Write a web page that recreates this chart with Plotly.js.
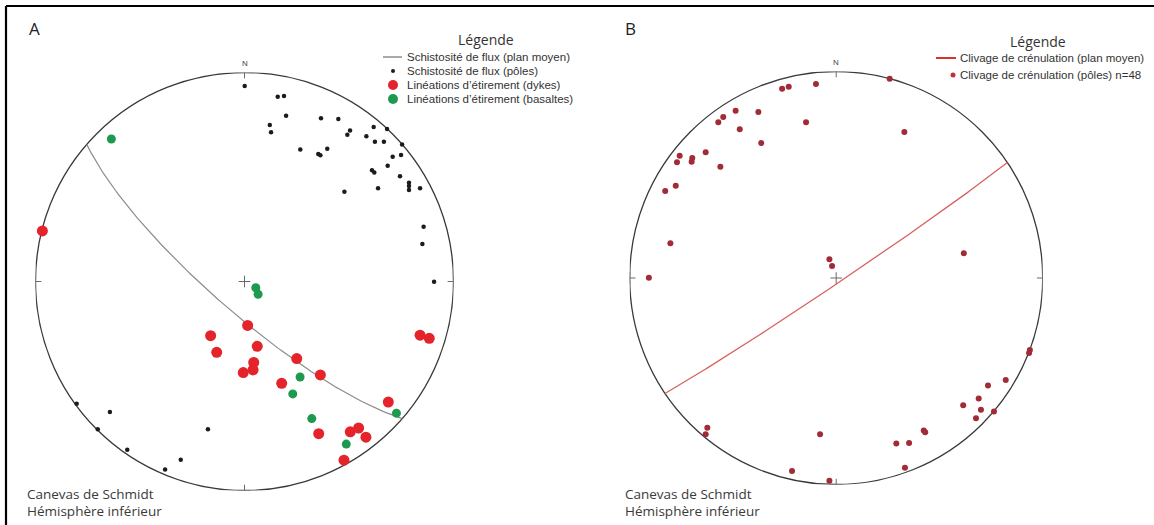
<!DOCTYPE html>
<html>
<head>
<meta charset="utf-8">
<script src="https://cdn.plot.ly/plotly-3.0.1.min.js"></script>
<style>html,body{margin:0;padding:0;background:#fff;}#chart{width:1154px;height:525px;}</style>
</head>
<body>
<div id="chart"></div>
<script>
// ---------- DATA (equal-area projection coords, unit = primitive radius; E positive, N positive) ----------
// Panel A : Schistosité de flux (pôles)
const schistPolesE = [0.001,0.159,0.189,0.199,0.121,0.127,0.366,0.449,0.267,0.353,0.363,0.396,0.505,0.492,0.478,0.618,0.583,0.682,0.624,0.667,0.754,0.709,0.749,0.685,0.610,0.621,0.744,0.787,0.787,0.787,0.840,0.639,0.857,0.851,0.907,-0.803,-0.644,-0.702,-0.561,-0.175,-0.305,-0.380];
const schistPolesN = [0.935,0.884,0.888,0.793,0.749,0.714,0.781,0.778,0.631,0.610,0.604,0.635,0.722,0.702,0.430,0.739,0.695,0.730,0.669,0.669,0.656,0.597,0.605,0.554,0.532,0.521,0.503,0.473,0.457,0.438,0.446,0.446,0.262,0.179,-0.001,-0.585,-0.624,-0.707,-0.805,-0.707,-0.853,-0.900];
// Panel A : Linéations d'étirement (dykes)
const dykesE = [-0.967,0.015,-0.162,-0.133,0.061,0.044,0.041,-0.006,0.250,0.363,0.178,0.688,0.355,0.506,0.546,0.581,0.476,0.840,0.884];
const dykesN = [0.242,-0.210,-0.259,-0.339,-0.310,-0.387,-0.423,-0.436,-0.369,-0.447,-0.487,-0.577,-0.728,-0.719,-0.701,-0.745,-0.855,-0.257,-0.272];
// Panel A : Linéations d'étirement (basaltes)
const basaltsE = [-0.637,0.054,0.065,0.266,0.231,0.322,0.487,0.727];
const basaltsN = [0.682,-0.030,-0.061,-0.457,-0.538,-0.656,-0.778,-0.630];
// Panel B : Clivage de crénulation (pôles)
const crenPolesE = [0.259,-0.262,-0.230,-0.098,-0.487,-0.377,-0.571,-0.547,-0.146,0.330,-0.467,-0.363,-0.758,-0.771,-0.697,-0.700,-0.632,-0.561,-0.828,-0.777,-0.803,-0.907,-0.033,-0.020,0.618,-0.624,-0.632,-0.078,-0.214,-0.033,0.291,0.353,0.424,0.431,0.333,0.615,0.690,0.735,0.821,0.701,0.677,0.764,0.938,0.934];
const crenPolesN = [0.965,0.917,0.926,0.939,0.810,0.804,0.754,0.780,0.754,0.707,0.720,0.654,0.592,0.560,0.581,0.563,0.609,0.539,0.421,0.447,0.168,0.001,0.091,0.058,0.120,-0.725,-0.757,-0.757,-0.935,-0.982,-0.802,-0.799,-0.739,-0.747,-0.919,-0.616,-0.583,-0.520,-0.494,-0.638,-0.679,-0.646,-0.349,-0.363];
// Mean planes (right-hand rule strike / dip, degrees): [A schistosité, B clivage]
const meanPlaneStrike = [131, 56];
const meanPlaneDip = [78, 88];
// Text
const panelLetters = ['A', 'B'];
const legendTitle = 'Légende';
const legendA = ['Schistosité de flux (plan moyen)', 'Schistosité de flux (pôles)', 'Linéations d\u2019étirement (dykes)', 'Linéations d\u2019étirement (basaltes)'];
const legendB = ['Clivage de crénulation (plan moyen)', 'Clivage de crénulation (pôles) n=48'];
const netCaption = ['Canevas de Schmidt', 'Hémisphère inférieur'];
const northLabel = 'N';

// ---------- geometry helpers ----------
const W = 1154, H = 525;
const px = x => x / W;
const py = y => 1 - y / H;
const rad = d => d * Math.PI / 180;

// lower-hemisphere equal-area (Schmidt) projection of a plane (great circle)
function greatCircle(strike, dip) {
  const xs = [], ys = [];
  const dd = strike + 90;
  const s = [Math.sin(rad(strike)), Math.cos(rad(strike)), 0];
  const d = [Math.sin(rad(dd)) * Math.cos(rad(dip)), Math.cos(rad(dd)) * Math.cos(rad(dip)), -Math.sin(rad(dip))];
  for (let k = 0; k <= 180; k++) {
    const phi = rad(k);
    const v = [0, 1, 2].map(i => Math.cos(phi) * s[i] + Math.sin(phi) * d[i]);
    const sinP = Math.min(1, Math.max(0, -v[2]));
    const r = Math.sqrt(Math.max(0, 1 - sinP));
    const h = Math.hypot(v[0], v[1]) || 1;
    xs.push(r * v[0] / h);
    ys.push(r * v[1] / h);
  }
  return {xs, ys};
}

const gcA = greatCircle(meanPlaneStrike[0], meanPlaneDip[0]);
const gcB = greatCircle(meanPlaneStrike[1], meanPlaneDip[1]);

const traces = [
  {x: gcA.xs, y: gcA.ys, xaxis: 'x', yaxis: 'y', mode: 'lines', line: {color: '#8c8c8c', width: 1.2}, hoverinfo: 'skip', showlegend: false},
  {x: schistPolesE, y: schistPolesN, xaxis: 'x', yaxis: 'y', mode: 'markers', marker: {color: '#1b1b1b', size: 4.5}, cliponaxis: false, showlegend: false, name: legendA[1]},
  {x: dykesE, y: dykesN, xaxis: 'x', yaxis: 'y', mode: 'markers', marker: {color: '#e4232b', size: 11}, cliponaxis: false, showlegend: false, name: legendA[2]},
  {x: basaltsE, y: basaltsN, xaxis: 'x', yaxis: 'y', mode: 'markers', marker: {color: '#1d9a4f', size: 9}, cliponaxis: false, showlegend: false, name: legendA[3]},
  {x: gcB.xs, y: gcB.ys, xaxis: 'x2', yaxis: 'y2', mode: 'lines', line: {color: '#d8625d', width: 1.3}, hoverinfo: 'skip', showlegend: false},
  {x: crenPolesE, y: crenPolesN, xaxis: 'x2', yaxis: 'y2', mode: 'markers', marker: {color: '#a12b36', size: 6}, cliponaxis: false, showlegend: false, name: legendB[1]}
];

// stereonet primitive + ticks
function netShapes(xr, yr) {
  const out = [];
  const c = '#3a3a3a', t = '#6a6a6a', L = 0.028;
  out.push({type: 'circle', xref: xr, yref: yr, x0: -1, x1: 1, y0: -1, y1: 1, line: {color: c, width: 1.3}, layer: 'below'});
  // N tick
  out.push({type: 'line', xref: xr, yref: yr, x0: 0, x1: 0, y0: 1 - L, y1: 1 + L, line: {color: t, width: 1}});
  // E, W, S crosses and centre cross
  [[1, 0], [-1, 0], [0, -1], [0, 0]].forEach(([cx, cy]) => {
    out.push({type: 'line', xref: xr, yref: yr, x0: cx - L, x1: cx + L, y0: cy, y1: cy, line: {color: t, width: 1}});
    out.push({type: 'line', xref: xr, yref: yr, x0: cx, x1: cx, y0: cy - L, y1: cy + L, line: {color: t, width: 1}});
  });
  return out;
}

function dot(xc, yc, diam, color) {
  return {type: 'circle', xref: 'paper', yref: 'paper', xsizemode: 'pixel', ysizemode: 'pixel',
    xanchor: px(xc), yanchor: py(yc), x0: -diam / 2, x1: diam / 2, y0: -diam / 2, y1: diam / 2,
    fillcolor: color, line: {width: 0}};
}

const shapes = [
  // frame (top and left)
  {type: 'line', xref: 'paper', yref: 'paper', x0: px(6), x1: 1.01, y0: py(6), y1: py(6), line: {color: '#000', width: 2.2}},
  {type: 'line', xref: 'paper', yref: 'paper', x0: px(6), x1: px(6), y0: py(6), y1: -0.01, line: {color: '#000', width: 2.2}},
  ...netShapes('x', 'y'),
  ...netShapes('x2', 'y2'),
  // legend A symbols
  {type: 'line', xref: 'paper', yref: 'paper', x0: px(383), x1: px(402), y0: py(57), y1: py(57), line: {color: '#555', width: 1}},
  dot(393, 71, 4, '#1b1b1b'),
  dot(393, 85, 10, '#e4232b'),
  dot(393, 99, 10, '#1d9a4f'),
  // legend B symbols
  {type: 'line', xref: 'paper', yref: 'paper', x0: px(936), x1: px(956), y0: py(58), y1: py(58), line: {color: '#d9332b', width: 2}},
  dot(953, 75, 5, '#c0313a')
];

const legFont = {family: 'Liberation Sans, Arial, sans-serif', size: 11.5, color: '#333'};
const capFont = {family: 'Open Sans, sans-serif', size: 13.5, color: '#3a3a3a'};
const ann = (x, y, text, font, xanchor) => ({xref: 'paper', yref: 'paper', x: px(x), y: py(y), text, font, showarrow: false, xanchor: xanchor || 'left', yanchor: 'middle'});

const annotations = [
  ann(27, 28, panelLetters[0], {family: 'Open Sans, sans-serif', size: 17, color: '#222'}),
  ann(623, 28, panelLetters[1], {family: 'Open Sans, sans-serif', size: 17, color: '#222'}),
  ann(486, 40, legendTitle, {family: 'Open Sans, sans-serif', size: 14, color: '#333'}, 'center'),
  ann(1038, 42, legendTitle, {family: 'Open Sans, sans-serif', size: 14, color: '#333'}, 'center'),
  ann(405, 57, legendA[0], legFont),
  ann(405, 71, legendA[1], legFont),
  ann(405, 85, legendA[2], legFont),
  ann(405, 99, legendA[3], legFont),
  ann(958, 58, legendB[0], legFont),
  ann(958, 75, legendB[1], legFont),
  ann(25, 494, netCaption[0], capFont),
  ann(25, 511, netCaption[1], capFont),
  ann(623, 494, netCaption[0], capFont),
  ann(623, 511, netCaption[1], capFont),
  {xref: 'x', yref: 'y', x: 0, y: 1, yshift: 9, text: northLabel, showarrow: false, font: {family: 'Liberation Sans, Arial, sans-serif', size: 8, color: '#444'}},
  {xref: 'x2', yref: 'y2', x: 0, y: 1, yshift: 9, text: northLabel, showarrow: false, font: {family: 'Liberation Sans, Arial, sans-serif', size: 8, color: '#444'}}
];

const axisCommon = {range: [-1, 1], visible: false, fixedrange: true, showgrid: false, zeroline: false};
const layout = {
  width: W, height: H, autosize: false,
  margin: {l: 0, r: 0, t: 0, b: 0},
  paper_bgcolor: '#fff', plot_bgcolor: 'rgba(0,0,0,0)',
  showlegend: false,
  xaxis: {...axisCommon, domain: [px(35.5), px(453.5)]},
  yaxis: {...axisCommon, domain: [py(490.5), py(72.5)]},
  xaxis2: {...axisCommon, domain: [px(629.7), px(1042.7)], anchor: 'y2'},
  yaxis2: {...axisCommon, domain: [py(484.5), py(71.5)], anchor: 'x2'},
  shapes, annotations
};

Plotly.newPlot('chart', traces, layout, {staticPlot: true, displayModeBar: false});
</script>
</body>
</html>
